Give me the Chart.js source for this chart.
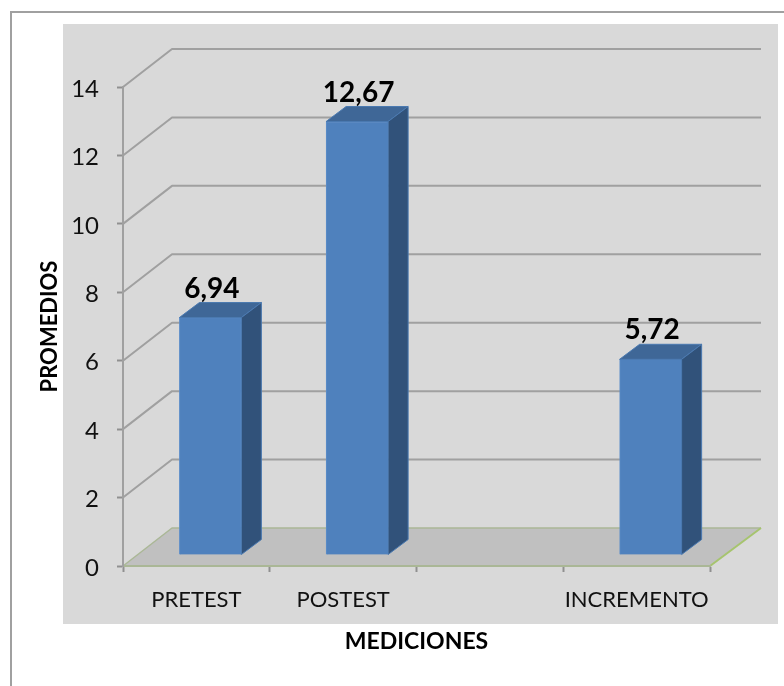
<!DOCTYPE html>
<html>
<head>
<meta charset="utf-8">
<title>Promedios</title>
<script src="https://cdn.jsdelivr.net/npm/chart.js@4/dist/chart.umd.min.js"></script>
<style>
  html, body { margin: 0; padding: 0; background: #fff; overflow: hidden; }
  #frame { position: absolute; left: 10px; top: 11px; width: 774px; height: 675px; border-left: 2px solid #a0a0a0; border-top: 2px solid #a0a0a0; box-sizing: border-box; }
  #panel { position: absolute; left: 63px; top: 24px; width: 715px; height: 600px; background: #d9d9d9; }
  #chart { position: absolute; left: 0; top: 0; }
</style>
</head>
<body>
<div id="frame"></div>
<div id="panel"></div>
<canvas id="chart" width="784" height="686"></canvas>
<script>
const categories = ['PRETEST', 'POSTEST', '', 'INCREMENTO'];
const promedios = [6.94, 12.67, null, 5.72];
const yTicks = [0, 2, 4, 6, 8, 10, 12, 14];

const FONT = 'Lato, "Open Sans", sans-serif';

// box depth of the 3D look, in px
const WALL_DX = 49, WALL_DX_RIGHT = 51, WALL_DY = 38;
const BAR_DX = 14, BAR_DY = 11;
const SIDE_DX = 20, SIDE_DY = 15;

function poly(ctx, pts, fill, stroke, lw) {
  ctx.beginPath();
  pts.forEach((p, i) => i ? ctx.lineTo(p[0], p[1]) : ctx.moveTo(p[0], p[1]));
  ctx.closePath();
  if (fill) { ctx.fillStyle = fill; ctx.fill(); }
  if (stroke) { ctx.strokeStyle = stroke; ctx.lineWidth = lw || 1; ctx.stroke(); }
}

// Back wall lines and the floor
const wallPlugin = {
  id: 'wall',
  beforeDraw(chart) {
    const { ctx, chartArea: a, scales: { y } } = chart;
    const x0 = a.left, x1 = a.right;
    ctx.save();
    ctx.lineJoin = 'round';
    yTicks.filter(v => v > 0).forEach(v => {
      const py = y.getPixelForValue(v);
      ctx.beginPath();
      ctx.moveTo(x0, py);
      ctx.lineTo(x0 + WALL_DX, py - WALL_DY);
      ctx.lineTo(x1 + WALL_DX_RIGHT, py - WALL_DY);
      ctx.strokeStyle = '#a0a0a0';
      ctx.lineWidth = 2;
      ctx.stroke();
    });
    // floor
    const py0 = y.getPixelForValue(0);
    poly(ctx, [[x0, py0], [x1, py0], [x1 + WALL_DX_RIGHT, py0 - WALL_DY], [x0 + WALL_DX, py0 - WALL_DY]], '#c0c0c0');
    ctx.beginPath();
    ctx.moveTo(x0, py0);
    ctx.lineTo(x0 + WALL_DX, py0 - WALL_DY);
    ctx.lineTo(x1 + WALL_DX_RIGHT, py0 - WALL_DY);
    ctx.strokeStyle = '#aab796';
    ctx.lineWidth = 1.5;
    ctx.stroke();
    ctx.beginPath();
    ctx.moveTo(x1, py0);
    ctx.lineTo(x1 + WALL_DX_RIGHT, py0 - WALL_DY);
    ctx.strokeStyle = '#a6c46e';
    ctx.lineWidth = 2;
    ctx.stroke();
    ctx.restore();
  }
};

// Pushes the bars back onto the floor, adds top and side faces and the value labels
const bar3dPlugin = {
  id: 'bar3d',
  beforeDatasetsDraw(chart) {
    chart.ctx.save();
    chart.ctx.translate(BAR_DX, -BAR_DY);
  },
  afterDatasetsDraw(chart) {
    const ctx = chart.ctx;
    chart.getDatasetMeta(0).data.forEach((bar, i) => {
      if (promedios[i] == null) return;
      const { x, y, base, width } = bar.getProps(['x', 'y', 'base', 'width'], true);
      const l = x - width / 2, r = x + width / 2;
      poly(ctx, [[l, y], [r, y], [r + SIDE_DX, y - SIDE_DY], [l + SIDE_DX, y - SIDE_DY]], '#3f6797', '#4a79b0', 1);
      poly(ctx, [[r, y], [r + SIDE_DX, y - SIDE_DY], [r + SIDE_DX, base - SIDE_DY], [r, base]], '#31527a', '#4a79b0', 1);
      ctx.fillStyle = '#000';
      ctx.font = 'bold 28px ' + FONT;
      ctx.textAlign = 'center';
      ctx.textBaseline = 'middle';
      ctx.fillText(promedios[i].toFixed(2).replace('.', ','), x + 1.5, y - 29);
    });
    ctx.restore();
  }
};

new Chart(document.getElementById('chart'), {
  type: 'bar',
  data: {
    labels: categories,
    datasets: [{
      data: promedios,
      backgroundColor: '#4f81bd',
      borderColor: '#5b8dc9',
      borderWidth: 1,
      barThickness: 62,
      clip: false
    }]
  },
  plugins: [wallPlugin, bar3dPlugin],
  options: {
    responsive: false,
    animation: false,
    layout: { padding: { left: 37, top: 87, right: 74, bottom: 31 } },
    plugins: { legend: { display: false }, tooltip: { enabled: false } },
    scales: {
      x: {
        afterFit(scale) { scale.height = 89; },
        border: { color: '#aab796', width: 2 },
        grid: { drawOnChartArea: false, color: '#909090', tickLength: 6, tickWidth: 2, offset: true },
        ticks: { color: '#111', font: { family: FONT, size: 22 }, maxRotation: 0, autoSkip: false, padding: 15 },
        title: { display: true, text: 'MEDICIONES', color: '#000', font: { family: FONT, size: 23, weight: 'bold' }, padding: { top: 8, bottom: 0 } }
      },
      y: {
        min: 0,
        max: 14,
        afterFit(scale) { scale.width = 86; },
        afterBuildTicks(scale) { scale.ticks = yTicks.map(v => ({ value: v })); },
        border: { color: '#a0a0a0', width: 2 },
        grid: { drawOnChartArea: false, color: '#909090', tickLength: 6, tickWidth: 2 },
        ticks: { color: '#111', font: { family: FONT, size: 24 }, padding: 18, labelOffset: 2 },
        title: { display: true, text: 'PROMEDIOS', color: '#000', font: { family: FONT, size: 22, weight: 'bold' }, padding: 0 }
      }
    }
  }
});
</script>
</body>
</html>
